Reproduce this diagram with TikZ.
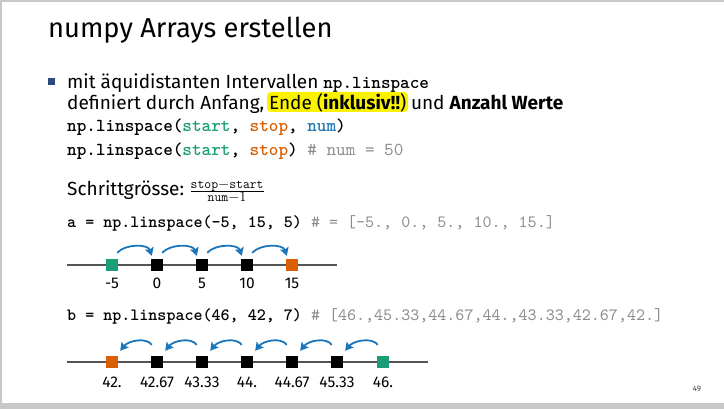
\documentclass[tikz,border=0pt]{standalone}
\usepackage{fontspec}
\setmainfont{Fira Sans}
\newfontfamily\codebf{lmmonolt10-bold}[Extension=.otf]
\newfontfamily\coderm{lmmono10-regular}[Extension=.otf]
\usetikzlibrary{arrows.meta}
\definecolor{framegray}{HTML}{C8C8C8}
\definecolor{bulletblue}{HTML}{2C4A7E}
\definecolor{cgreen}{HTML}{1B9E77}
\definecolor{corange}{HTML}{D95F02}
\definecolor{cblue}{HTML}{1F78B4}
\definecolor{arrblue}{HTML}{1B75BB}
\definecolor{cgray}{HTML}{8C8C8C}
\definecolor{hlyellow}{HTML}{FAF200}
\definecolor{linegray}{HTML}{555555}
\tikzset{
  txt/.style={anchor=base west, inner sep=0pt, font=\fontsize{19}{23}\selectfont},
  code/.style={anchor=base west, inner sep=0pt, font=\fontsize{18.3}{22}\selectfont\codebf},
  codesm/.style={anchor=base west, inner sep=0pt, font=\fontsize{17.2}{21}\selectfont\codebf},
  hl/.style={anchor=base west, fill=hlyellow, rounded corners=4pt, inner xsep=2pt, inner ysep=2pt,
             text height=16pt, text depth=0pt, font=\fontsize{19}{23}\selectfont},
  sq/.style={minimum size=12pt, inner sep=0pt, draw=none},
  lab/.style={anchor=base, inner sep=0pt, font=\fontsize{15.5}{18}\selectfont},
  numline/.style={draw=linegray, line width=1.2pt},
  arr/.style={draw=arrblue, line width=1.8pt, -{Stealth[length=8pt,width=9pt,inset=1.5pt]}},
}
\begin{document}
\begin{tikzpicture}[x=1pt,y=-1pt]
% slide frame
\fill[framegray] (0,0) rectangle (724,409);
\fill[white] (2,2) rectangle (724,403);
\useasboundingbox (0,0) rectangle (724,409);

% title
\node[anchor=base west, inner sep=0pt, font=\fontsize{27.3}{32}\selectfont] (title) at (48,38) {numpy Arrays erstellen};

% bullet item
\node[fill=bulletblue, minimum size=7pt, inner sep=0pt] (bul) at (51.5,81.5) {};
\node[txt] (l1) at (67,89) {mit äquidistanten Intervallen};
\node[code] (l1code) at ([xshift=4.5pt]l1.base east) {np.linspace};
\node[txt] (l2a) at (67,110) {definiert durch Anfang,};
\node[hl] (l2b) at ([xshift=2.4pt]l2a.base east) {Ende (\textbf{inklusiv!!})};
\node[txt] (l2c) at ([xshift=2.4pt]l2b.base east) {und \textbf{Anzahl Werte}};
\node[code] (c1) at (67,132) {np.linspace(\textcolor{cgreen}{start}, \textcolor{corange}{stop}, \textcolor{cblue}{num})};
\node[code] (c2) at (67,156) {np.linspace(\textcolor{cgreen}{start}, \textcolor{corange}{stop}) {\coderm\color{cgray}\# num = 50}};

% step size
\node[txt] (step) at (67,196) {Schrittgrösse:};
\node[anchor=base west, inner sep=0pt, font=\fontsize{19}{23}\selectfont] (frac) at ([xshift=5pt]step.base east)
  {$\frac{\mathtt{stop}-\mathtt{start}}{\mathtt{num}-1}$};

% example a
\node[codesm] (ca) at (67,228) {a = np.linspace(-5, 15, 5) {\coderm\color{cgray}\# = [-5., 0., 5., 10., 15.]}};
\coordinate (aL) at (67,265);
\coordinate (aR) at (337,265);
\draw[numline] (aL) -- (aR);
\node[sq, fill=cgreen]  (a0) at (112,265) {};
\node[sq, fill=black]   (a1) at (157,265) {};
\node[sq, fill=black]   (a2) at (202,265) {};
\node[sq, fill=black]   (a3) at (247,265) {};
\node[sq, fill=corange] (a4) at (292,265) {};
\node[lab] (la0) at (112,289) {-5};
\node[lab] (la1) at (157,289) {0};
\node[lab] (la2) at (202,289) {5};
\node[lab] (la3) at (247,289) {10};
\node[lab] (la4) at (292,289) {15};
\foreach \i/\j in {0/1,1/2,2/3,3/4}{
  \draw[arr] ([xshift=-1pt,yshift=6pt]a\i.north east)
    .. controls +(8pt,9pt) and +(-4pt,12pt) .. ([xshift=1pt,yshift=3pt]a\j.north west);
}

% example b
\node[codesm] (cb) at (67,320) {b = np.linspace(46, 42, 7) {\coderm\color{cgray}\# [46.,45.33,44.67,44.,43.33,42.67,42.]}};
\coordinate (bL) at (67,362);
\coordinate (bR) at (428,362);
\draw[numline] (bL) -- (bR);
\node[sq, fill=corange] (b0) at (112,362) {};
\node[sq, fill=black]   (b1) at (157,362) {};
\node[sq, fill=black]   (b2) at (202,362) {};
\node[sq, fill=black]   (b3) at (247,362) {};
\node[sq, fill=black]   (b4) at (292,362) {};
\node[sq, fill=black]   (b5) at (337,362) {};
\node[sq, fill=cgreen]  (b6) at (383,362) {};
\node[lab] (lb0) at (112,387) {42.};
\node[lab] (lb1) at (157,387) {42.67};
\node[lab] (lb2) at (202,387) {43.33};
\node[lab] (lb3) at (247,387) {44.};
\node[lab] (lb4) at (292,387) {44.67};
\node[lab] (lb5) at (337,387) {45.33};
\node[lab] (lb6) at (383,387) {46.};
\foreach \i/\j in {1/0,2/1,3/2,4/3,5/4,6/5}{
  \draw[arr] ([xshift=1pt,yshift=11pt]b\i.north west)
    .. controls +(-6pt,8pt) and +(8pt,10pt) .. ([xshift=2pt,yshift=5pt]b\j.north east);
}

% page number
\node[anchor=base, inner sep=0pt, font=\fontsize{8}{10}\selectfont, text=black!75] (page) at (697,391) {49};
\end{tikzpicture}
\end{document}
